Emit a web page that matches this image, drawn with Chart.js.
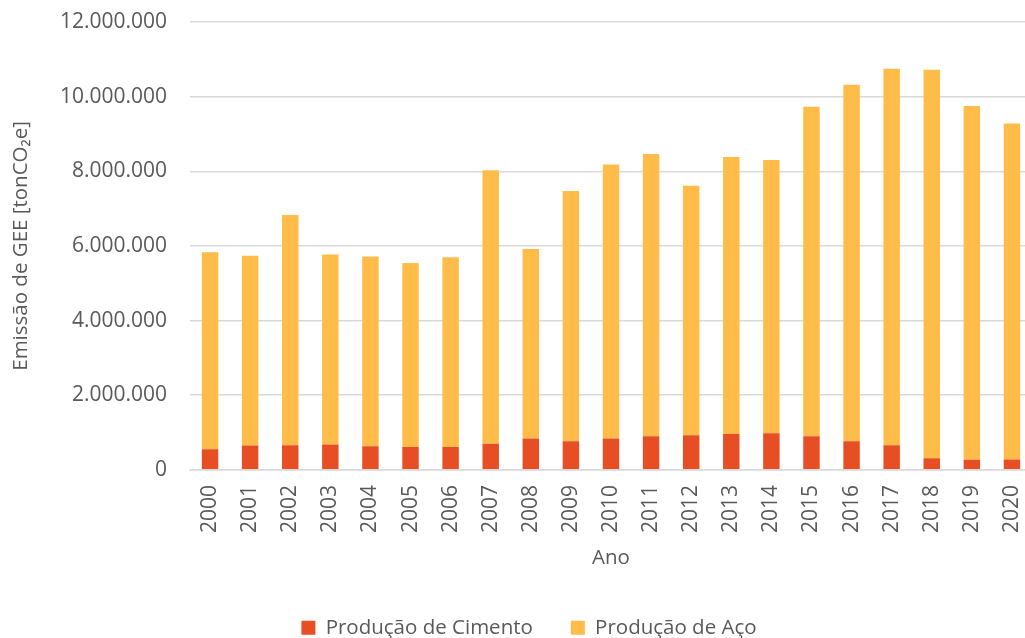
<!DOCTYPE html>
<html lang="pt">
<head>
    <meta charset="UTF-8">
    <title>Emissão de GEE</title>
    <script src="https://cdn.jsdelivr.net/npm/chart.js"></script>
    <style>
        html, body { margin: 0; padding: 0; background: #fff; overflow: hidden; }
        #wrap { width: 1032px; height: 638px; }
    </style>
</head>
<body>
    <div id="wrap"><canvas id="chart"></canvas></div>
    <script>
        const anos = ["2000", "2001", "2002", "2003", "2004", "2005", "2006", "2007", "2008", "2009", "2010",
            "2011", "2012", "2013", "2014", "2015", "2016", "2017", "2018", "2019", "2020"];

        // tonCO2e
        const cimento = [550000, 650000, 660000, 680000, 630000, 610000, 610000, 700000, 840000, 770000, 840000,
            900000, 930000, 960000, 980000, 900000, 770000, 660000, 310000, 270000, 280000];
        const aco = [5280000, 5090000, 6170000, 5090000, 5090000, 4930000, 5090000, 7330000, 5080000, 6700000, 7340000,
            7560000, 6680000, 7420000, 7320000, 8830000, 9550000, 10090000, 10410000, 9480000, 9000000];

        const yMax = 12000000;
        const yStep = 2000000;

        const cinza = "#595959";
        const fonte = "'Open Sans', 'DejaVu Sans', sans-serif";

        // 12000000 -> "12.000.000"
        function milhar(v) {
            return String(Math.round(v)).replace(/\B(?=(\d{3})+(?!\d))/g, ".");
        }

        new Chart(document.getElementById("chart"), {
            type: "bar",
            data: {
                labels: anos,
                datasets: [
                    {
                        label: "Produção de Cimento",
                        data: cimento,
                        backgroundColor: "#E84E24",
                        barPercentage: 0.41,
                        categoryPercentage: 1,
                    },
                    {
                        label: "Produção de Aço",
                        data: aco,
                        backgroundColor: "#FFBC48",
                        barPercentage: 0.41,
                        categoryPercentage: 1,
                    },
                ],
            },
            options: {
                responsive: true,
                maintainAspectRatio: false,
                animation: false,
                layout: { padding: { top: 22, left: 26, right: 0, bottom: -10 } },
                scales: {
                    x: {
                        stacked: true,
                        afterFit(scale) { scale.paddingRight = 0; scale.paddingLeft = 0; },
                        grid: { display: false },
                        border: { color: "#D9D9D9", width: 1.5 },
                        ticks: {
                            color: cinza,
                            font: { family: fonte, size: 21 },
                            minRotation: 90,
                            maxRotation: 90,
                            padding: 7,
                        },
                        title: {
                            display: true,
                            text: "Ano",
                            color: cinza,
                            font: { family: fonte, size: 20.5 },
                            padding: { top: 6, bottom: 9 },
                        },
                    },
                    y: {
                        stacked: true,
                        min: 0,
                        max: yMax,
                        afterFit(scale) {
                            scale.width = 164;
                            scale.paddingTop = 0;
                            scale.paddingBottom = 0;
                        },
                        grid: { color: "#D9D9D9", lineWidth: 1.5, drawTicks: false },
                        border: { display: false },
                        ticks: {
                            stepSize: yStep,
                            color: cinza,
                            font: { family: fonte, size: 21 },
                            padding: 23,
                            callback: v => milhar(v),
                        },
                        title: {
                            display: true,
                            text: "Emissão de GEE [tonCO₂e]",
                            color: cinza,
                            font: { family: fonte, size: 20.5 },
                            padding: { top: -17, bottom: 0 },
                        },
                    },
                },
                plugins: {
                    legend: {
                        position: "bottom",
                        labels: {
                            color: cinza,
                            font: { family: fonte, size: 20.5 },
                            boxWidth: 14,
                            boxHeight: 14,
                            padding: 38,
                        },
                    },
                    tooltip: { enabled: false },
                },
            },
        });
    </script>
</body>
</html>
